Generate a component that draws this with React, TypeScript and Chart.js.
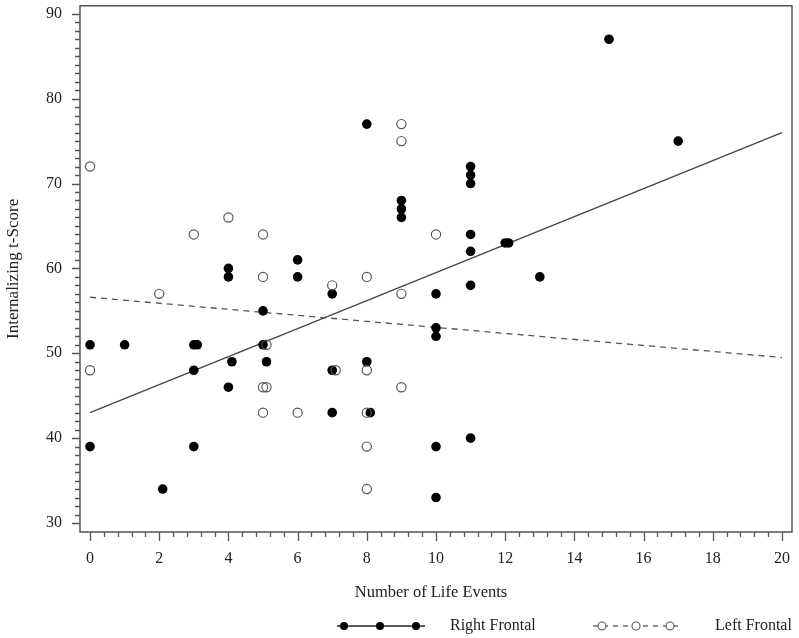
import { useEffect, useRef } from 'react';
import { Chart, registerables } from 'chart.js';

Chart.register(...registerables);

// Right Frontal (filled markers)
const rightX = [0, 0, 1, 2.1, 3, 3.1, 3, 3, 4, 4, 4.1, 4, 5, 5, 5.1, 6, 6, 7, 7, 7, 8, 8, 8.1, 9, 9, 9, 10, 10, 10, 10, 10, 11, 11, 11, 11, 11, 11, 11, 12, 12.1, 13, 15, 17];
const rightY = [51, 39, 51, 34, 51, 51, 48, 39, 60, 59, 49, 46, 55, 51, 49, 61, 59, 57, 48, 43, 77, 49, 43, 68, 67, 66, 57, 53, 52, 39, 33, 72, 71, 70, 64, 62, 58, 40, 63, 63, 59, 87, 75];

// Left Frontal (open markers)
const leftX = [0, 0, 2, 3, 4, 5, 5, 5.1, 5, 5.1, 5, 6, 7, 7.1, 8, 8, 8, 8, 8, 9, 9, 9, 9, 10];
const leftY = [72, 48, 57, 64, 66, 64, 59, 51, 46, 46, 43, 43, 58, 48, 59, 48, 43, 39, 34, 77, 75, 57, 46, 64];

// Fitted lines
const rightFitX = [0, 20];
const rightFitY = [43, 76];
const leftFitX = [0, 20];
const leftFitY = [56.6, 49.5];

const xTicks = [0, 2, 4, 6, 8, 10, 12, 14, 16, 18, 20];
const yTicks = [30, 40, 50, 60, 70, 80, 90];

const xTitle = 'Number of Life Events';
const yTitle = 'Internalizing t-Score';
const rightLabel = 'Right Frontal';
const leftLabel = 'Left Frontal';

const FONT = "'Liberation Serif', 'Times New Roman', serif";
const AXIS = '#555555';

const pts = (xs: number[], ys: number[]) => xs.map((x, i) => ({ x, y: ys[i] }));

const zeroPad = (s: any) => {
  s.paddingTop = 0;
  s.paddingBottom = 0;
  s.paddingLeft = 0;
  s.paddingRight = 0;
};

const decor = {
  id: 'decor',
  afterDraw(chart: any) {
    const { ctx, chartArea: a, scales } = chart;
    const x = scales.x;
    const y = scales.y;
    ctx.save();
    // frame
    ctx.strokeStyle = AXIS;
    ctx.lineWidth = 1.5;
    ctx.strokeRect(a.left, a.top, a.right - a.left, a.bottom - a.top);
    // x ticks
    ctx.lineWidth = 1.3;
    ctx.beginPath();
    for (let i = 0; i <= 50; i++) {
      const v = i * 0.4;
      const major = i % 5 === 0;
      const px = Math.round(x.getPixelForValue(v)) + 0.5;
      ctx.moveTo(px, a.bottom);
      ctx.lineTo(px, a.bottom + (major ? 9 : 5));
    }
    // y ticks
    for (let v = 30; v <= 90; v++) {
      const major = v % 10 === 0;
      const py = Math.round(y.getPixelForValue(v)) + 0.5;
      ctx.moveTo(a.left, py);
      ctx.lineTo(a.left - (major ? 8 : 5), py);
    }
    ctx.stroke();

    // axis titles
    ctx.fillStyle = '#222';
    ctx.font = `16.5px ${FONT}`;
    ctx.textAlign = 'center';
    ctx.textBaseline = 'middle';
    ctx.fillText(xTitle, (a.left + a.right) / 2 - 5, 593);
    ctx.save();
    ctx.translate(14, (a.top + a.bottom) / 2);
    ctx.rotate(-Math.PI / 2);
    ctx.font = `17px ${FONT}`;
    ctx.fillText(yTitle, 0, 0);
    ctx.restore();

    // legend
    const ly = 626;
    const ds = chart.data.datasets;
    // right frontal sample
    ctx.strokeStyle = '#222';
    ctx.lineWidth = 1.3;
    ctx.setLineDash([]);
    ctx.beginPath();
    ctx.moveTo(337, ly);
    ctx.lineTo(425, ly);
    ctx.stroke();
    ctx.fillStyle = ds[0].backgroundColor;
    [344, 380, 416].forEach((cx) => {
      ctx.beginPath();
      ctx.arc(cx, ly, 4, 0, Math.PI * 2);
      ctx.fill();
    });
    // left frontal sample
    ctx.strokeStyle = '#555';
    ctx.setLineDash([5, 5]);
    ctx.beginPath();
    ctx.moveTo(593, ly);
    ctx.lineTo(678, ly);
    ctx.stroke();
    ctx.setLineDash([]);
    ctx.fillStyle = '#fff';
    ctx.lineWidth = 1.1;
    [602, 636, 670].forEach((cx) => {
      ctx.beginPath();
      ctx.arc(cx, ly, 4, 0, Math.PI * 2);
      ctx.fill();
      ctx.stroke();
    });
    ctx.fillStyle = '#222';
    ctx.font = `16px ${FONT}`;
    ctx.textAlign = 'left';
    ctx.fillText(rightLabel, 450, ly);
    ctx.fillText(leftLabel, 715, ly);
    ctx.restore();
  },
};

export default function App() {
  const ref = useRef<HTMLCanvasElement | null>(null);
  useEffect(() => {
    if (!ref.current) return;
    const chart = new Chart(ref.current, {
      type: 'scatter',
      data: {
        datasets: [
          {
            label: rightLabel,
            data: pts(rightX, rightY),
            backgroundColor: '#000',
            borderColor: '#000',
            pointRadius: 4.8,
            pointBorderWidth: 0,
            pointStyle: 'circle',
            order: 2,
          },
          {
            label: leftLabel,
            data: pts(leftX, leftY),
            backgroundColor: 'rgba(255,255,255,0)',
            borderColor: '#555',
            pointRadius: 4.6,
            pointBorderWidth: 1.2,
            order: 1,
          },
          {
            type: 'line',
            label: rightLabel + ' fit',
            data: pts(rightFitX, rightFitY),
            borderColor: '#444',
            borderWidth: 1.3,
            pointRadius: 0,
            fill: false,
            order: 3,
          },
          {
            type: 'line',
            label: leftLabel + ' fit',
            data: pts(leftFitX, leftFitY),
            borderColor: '#555',
            borderWidth: 1.3,
            borderDash: [6, 5],
            pointRadius: 0,
            fill: false,
            order: 3,
          },
        ],
      } as any,
      options: {
        animation: false,
        responsive: false,
        devicePixelRatio: 1,
        layout: { padding: { top: 5, right: 7, bottom: 0, left: 0 } },
        plugins: { legend: { display: false }, tooltip: { enabled: false } },
        scales: {
          x: {
            type: 'linear',
            min: -0.29,
            max: 20.29,
            grid: { display: false, drawTicks: false },
            border: { display: false },
            afterBuildTicks: (s: any) => {
              s.ticks = xTicks.map((v) => ({ value: v }));
            },
            afterFit: (s: any) => {
              s.height = 106;
              zeroPad(s);
            },
            ticks: {
              autoSkip: false,
              maxRotation: 0,
              padding: 17,
              color: '#222',
              font: { family: FONT, size: 16 },
            },
          },
          y: {
            type: 'linear',
            min: 28.94,
            max: 90.94,
            grid: { display: false, drawTicks: false },
            border: { display: false },
            afterBuildTicks: (s: any) => {
              s.ticks = yTicks.map((v) => ({ value: v }));
            },
            afterFit: (s: any) => {
              s.width = 80;
              zeroPad(s);
            },
            ticks: {
              autoSkip: false,
              padding: 18,
              color: '#222',
              font: { family: FONT, size: 16 },
            },
          },
        },
      } as any,
      plugins: [decor],
    });
    return () => chart.destroy();
  }, []);
  return (
    <div style={{ position: 'absolute', left: 0, top: 0, width: 799, height: 638, background: '#fff' }}>
      <canvas ref={ref} width={799} height={638} style={{ display: 'block' }} />
    </div>
  );
}
